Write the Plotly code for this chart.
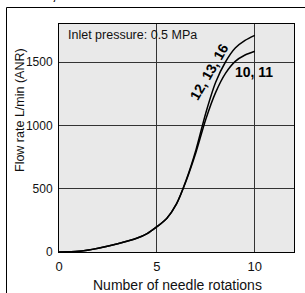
import plotly.graph_objects as go

rotations = [0, 1, 2, 3, 4, 4.5, 5, 5.5, 6, 6.5, 7, 7.5, 8, 8.5, 9, 9.5, 10]
flow_12_13_16 = [0, 5, 30, 65, 110, 145, 200, 265, 380, 570, 810, 1100, 1340, 1500, 1610, 1670, 1710]
flow_10_11 = [0, 5, 30, 65, 110, 145, 200, 265, 380, 565, 790, 1050, 1260, 1410, 1505, 1555, 1585]

x_ticks = [0, 5, 10]
y_ticks = [0, 500, 1000, 1500]

FONT = "Liberation Sans, Arial, Helvetica, sans-serif"

fig = go.Figure()
for ys in (flow_12_13_16, flow_10_11):
    fig.add_trace(go.Scatter(x=rotations, y=ys, mode="lines",
                             line=dict(color="black", width=1.5, shape="spline", smoothing=0.8),
                             showlegend=False, hoverinfo="skip"))

W, H = 305, 293
ml, mr, mt, mb = 59, 11, 24, 41
pw, ph = W - ml - mr, H - mt - mb

def px(xp):
    return (xp - ml) / pw

def py(yp):
    return (H - mb - yp) / ph

fig.update_layout(
    width=W, height=H,
    margin=dict(l=ml, r=mr, t=mt, b=mb),
    paper_bgcolor="white",
    plot_bgcolor="#e9e9e9",
    font=dict(family=FONT, size=12, color="#111"),
    xaxis=dict(range=[0, 12], tickvals=x_ticks, showgrid=True, gridcolor="#333", gridwidth=1,
               zeroline=False, showline=True, linecolor="black", linewidth=1, mirror=True,
               ticks="", ticklabelstandoff=2, tickfont=dict(size=13)),
    yaxis=dict(range=[0, 1800], tickvals=y_ticks, showgrid=True, gridcolor="#333", gridwidth=1,
               zeroline=False, showline=True, linecolor="black", linewidth=1, mirror=True,
               ticks="", ticklabelstandoff=3, tickfont=dict(size=12)),
    shapes=[
        dict(type="path", xref="paper", yref="paper", layer="above",
             path=f"M {px(6.5)},{py(310)} L {px(6.5)},{py(7.5)} L {px(320)},{py(7.5)}",
             line=dict(color="black", width=1)),
    ],
    annotations=[
        dict(text="<b>AS1001F, AS1011F</b>", xref="paper", yref="paper", x=px(-1), y=py(4.5),
             xanchor="left", yanchor="bottom", showarrow=False, font=dict(size=12.5, color="black")),
        dict(text="Inlet pressure: 0.5 MPa", xref="paper", yref="paper", x=px(66), y=py(35),
             xanchor="left", yanchor="middle", showarrow=False, font=dict(size=12.5)),
        dict(text="<b>12, 13, 16</b>", xref="paper", yref="paper", x=px(209), y=py(72),
             xanchor="center", yanchor="middle", showarrow=False, textangle=-60,
             font=dict(size=14, color="black")),
        dict(text="<b>10, 11</b>", xref="paper", yref="paper", x=px(254), y=py(72),
             xanchor="center", yanchor="middle", showarrow=False, font=dict(size=14, color="black")),
        dict(text="Number of needle rotations", xref="paper", yref="paper", x=px(177), y=py(285),
             xanchor="center", yanchor="middle", showarrow=False, font=dict(size=14)),
        dict(text="Flow rate L/min (ANR)", xref="paper", yref="paper", x=px(20), y=py(110),
             xanchor="center", yanchor="middle", showarrow=False, textangle=-90, font=dict(size=12.5)),
    ],
)

fig.write_html("out.html", config={"displayModeBar": False},
               post_script="document.body.style.margin='0';document.body.style.overflow='hidden';")
